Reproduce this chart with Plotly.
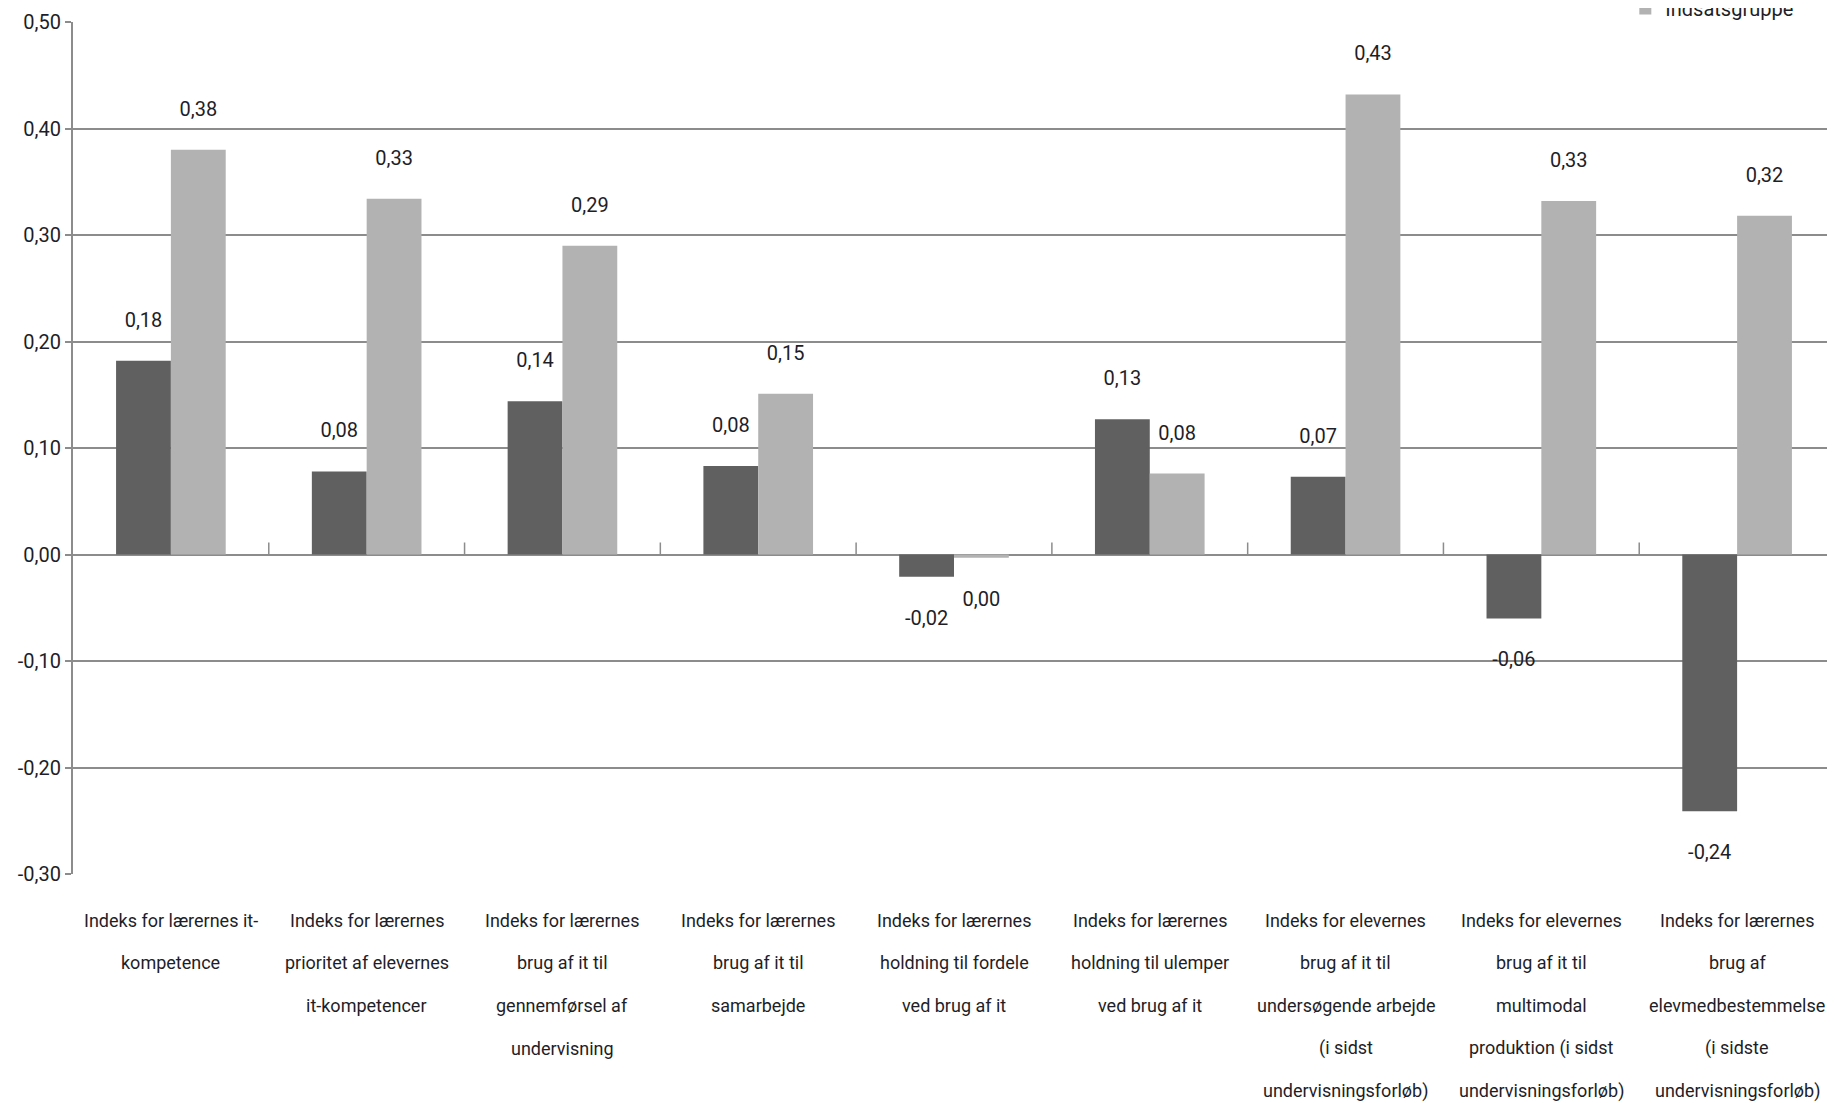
import plotly.graph_objects as go

categories = [
    "Indeks for lærernes it-<br>kompetence",
    "Indeks for lærernes<br>prioritet af elevernes<br>it-kompetencer",
    "Indeks for lærernes<br>brug af it til<br>gennemførsel af<br>undervisning",
    "Indeks for lærernes<br>brug af it til<br>samarbejde",
    "Indeks for lærernes<br>holdning til fordele<br>ved brug af it",
    "Indeks for lærernes<br>holdning til ulemper<br>ved brug af it",
    "Indeks for elevernes<br>brug af it til<br>undersøgende arbejde<br>(i sidst<br>undervisningsforløb)",
    "Indeks for elevernes<br>brug af it til<br>multimodal<br>produktion (i sidst<br>undervisningsforløb)",
    "Indeks for lærernes<br>brug af<br>elevmedbestemmelse<br>(i sidste<br>undervisningsforløb)",
]
series_names = ["Kontrolgruppe", "Indsatsgruppe"]
kontrol = [0.182, 0.078, 0.144, 0.083, -0.021, 0.127, 0.073, -0.060, -0.241]
indsats = [0.380, 0.334, 0.290, 0.151, -0.003, 0.076, 0.432, 0.332, 0.318]
y_ticks = [0.5, 0.4, 0.3, 0.2, 0.1, 0.0, -0.1, -0.2, -0.3]

colors = ["#606060", "#b2b2b2"]
FONT = "Roboto, Liberation Sans, sans-serif"
TXT = "#1e1e28"
FS = 20
FS_CAT = 18
GRID = "#8c8c8c"
NB = "\u00a0"


def fmt(v):
    r = round(v, 2)
    if r == 0:
        r = 0.0
    return f"{r:.2f}".replace(".", ",")


def label(v):
    # an empty line between bar end and label gives Excel-like spacing
    return f"{fmt(v)}<br>{NB}" if v >= 0 else f"{NB}<br>{fmt(v)}"


xs = list(range(len(categories)))
fig = go.Figure()
for name, vals, col in zip(series_names, [kontrol, indsats], colors):
    fig.add_trace(go.Bar(
        x=xs, y=vals, name=name, marker=dict(color=col, line=dict(width=0)),
        text=[label(v) for v in vals], textposition="outside",
        textfont=dict(family=FONT, size=FS, color=TXT), cliponaxis=False,
    ))

# small tick marks at category boundaries on the zero line
for i in range(1, len(categories)):
    fig.add_shape(type="line", xref="x", yref="y", x0=i - 0.5, x1=i - 0.5,
                  ysizemode="pixel", yanchor=0, y0=0, y1=12,
                  line=dict(color=GRID, width=1.5))

# category labels, one annotation per line for Excel-like line spacing
for i, cat in enumerate(categories):
    for k, line in enumerate(cat.split("<br>")):
        fig.add_annotation(x=i, xref="x", y=0, yref="paper", text=line,
                           showarrow=False, xanchor="center", yanchor="middle",
                           yshift=-(46 + 42.7 * k),
                           font=dict(family=FONT, size=FS_CAT, color=TXT))

fig.update_layout(
    width=1827, height=1095,
    margin=dict(l=65, r=0, t=14, b=229, autoexpand=False),
    paper_bgcolor="white", plot_bgcolor="white",
    barmode="group", bargap=0.44, bargroupgap=0,
    separators=",.",
    font=dict(family=FONT, size=FS, color=TXT),
    legend=dict(x=0.881, y=0.9929, xanchor="left", yanchor="bottom",
                font=dict(family=FONT, size=FS, color=TXT),
                bgcolor="rgba(0,0,0,0)", itemwidth=30, traceorder="normal"),
)
fig.update_xaxes(
    tickmode="array", tickvals=xs, showticklabels=False,
    range=[-0.5, len(categories) - 0.5], showgrid=False, showline=False,
    ticks="",
)
fig.update_yaxes(
    range=[-0.3, 0.5], tickmode="array", tickvals=y_ticks,
    ticktext=[fmt(v) for v in y_ticks],
    showgrid=True, gridcolor=GRID, gridwidth=2,
    zeroline=True, zerolinecolor=GRID, zerolinewidth=2,
    showline=True, linecolor=GRID, linewidth=2,
    ticks="outside", ticklen=6, tickcolor=GRID, tickwidth=2,
    tickfont=dict(family=FONT, size=FS, color=TXT),
)

fig.write_html("out.html")
